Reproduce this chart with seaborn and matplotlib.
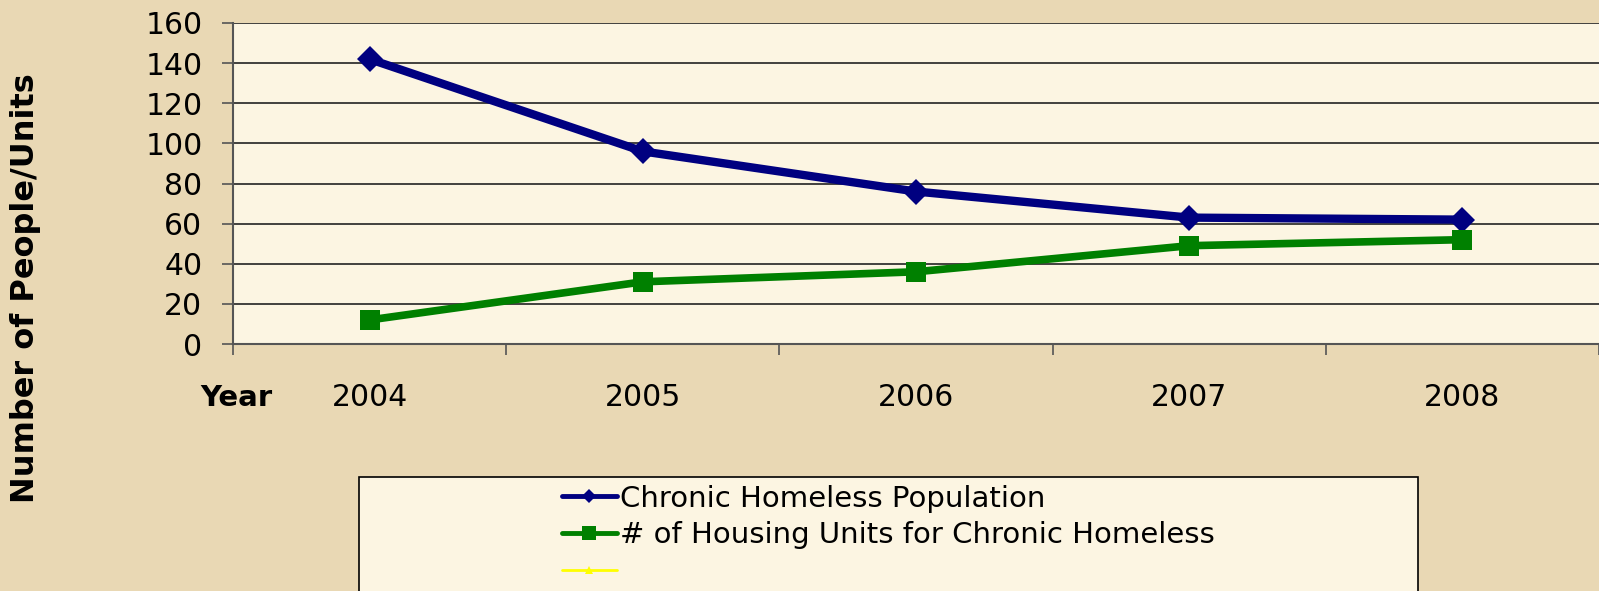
import matplotlib
matplotlib.use("Agg")
import matplotlib.pyplot as plt
from matplotlib.lines import Line2D
from matplotlib.patches import Rectangle
import seaborn as sns
import pandas as pd

# data
years = ["2004", "2005", "2006", "2007", "2008"]
homeless = [142, 96, 76, 63, 62]
units = [12, 31, 36, 49, 52]

series_names = ["Chronic Homeless Population",
                "# of Housing Units for Chronic Homeless",
                ""]

sns.set_theme(style="white")
plt.rcParams["font.family"] = ["DejaVu Sans"]
plt.rcParams["text.color"] = "black"
plt.rcParams["xtick.color"] = "black"
plt.rcParams["ytick.color"] = "black"

outer_bg = "#E9D8B4"
plot_bg = "#FCF5E2"

df = pd.DataFrame({"Year": years, "homeless": homeless, "units": units})

fig = plt.figure(figsize=(15.99, 5.91), dpi=100, facecolor=outer_bg)
ax = fig.add_axes([233 / 1599, 1 - 344 / 591, 1 - 233 / 1599, 321 / 591])
ax.set_facecolor(plot_bg)

sns.lineplot(data=df, x="Year", y="homeless", ax=ax, color="#000080",
             linewidth=6, marker="D", markersize=13, markeredgewidth=0,
             sort=False, zorder=3)
sns.lineplot(data=df, x="Year", y="units", ax=ax, color="#008000",
             linewidth=5.5, marker="s", markersize=15, markeredgewidth=0,
             sort=False, zorder=3)

ax.set_ylim(0, 160)
ax.set_xlim(-0.5, len(years) - 0.5)
ax.set_yticks(range(0, 161, 20))
ax.set_xlabel("")
ax.set_ylabel("")

# grid + spines
ax.yaxis.grid(True, color="#222222", linewidth=1.2)
ax.set_axisbelow(True)
for s in ["top", "right"]:
    ax.spines[s].set_visible(False)
for s in ["left", "bottom"]:
    ax.spines[s].set_color("#555555")
    ax.spines[s].set_linewidth(1.5)

ax.tick_params(axis="y", direction="out", length=8, width=1.2, color="#555555",
               labelsize=21.5, pad=14, left=True)
ax.set_xticks(range(len(years)))
ax.set_xticklabels(years)
ax.tick_params(axis="x", which="major", length=0, labelsize=21.5, pad=28)
ax.set_xticks([i - 0.5 for i in range(len(years) + 1)], minor=True)
ax.tick_params(axis="x", which="minor", direction="out", length=8, width=1.2,
               color="#555555", bottom=True)

fig.text(236 / 1599, 1 - 398 / 591, "Year", ha="center", va="center",
         fontsize=21, fontweight="bold")
fig.text(26 / 1599, 1 - 288 / 591, "Number of People/Units", ha="center",
         va="center", rotation=90, fontsize=23, fontweight="bold")

# legend box
fig.patches.append(Rectangle((359 / 1599, -0.05), 1059 / 1599, 1.05 - 477 / 591,
                             transform=fig.transFigure, facecolor=plot_bg,
                             edgecolor="black", linewidth=1.2, zorder=0))
handles = [
    Line2D([], [], color="#000080", linewidth=3.5, marker="D", markersize=7,
           markeredgewidth=0),
    Line2D([], [], color="#008000", linewidth=3.5, marker="s", markersize=10,
           markeredgewidth=0),
    Line2D([], [], color="#FFFF00", linewidth=2, marker="^", markersize=6,
           markeredgewidth=0),
]
fig.legend(handles, series_names, loc="upper left",
           bbox_to_anchor=(547 / 1599, 1 - 470 / 591), frameon=False,
           fontsize=21, handlelength=1.9, handletextpad=0.1,
           labelspacing=0.3, borderpad=0)

fig.savefig("out.png", dpi=100, facecolor=outer_bg)
